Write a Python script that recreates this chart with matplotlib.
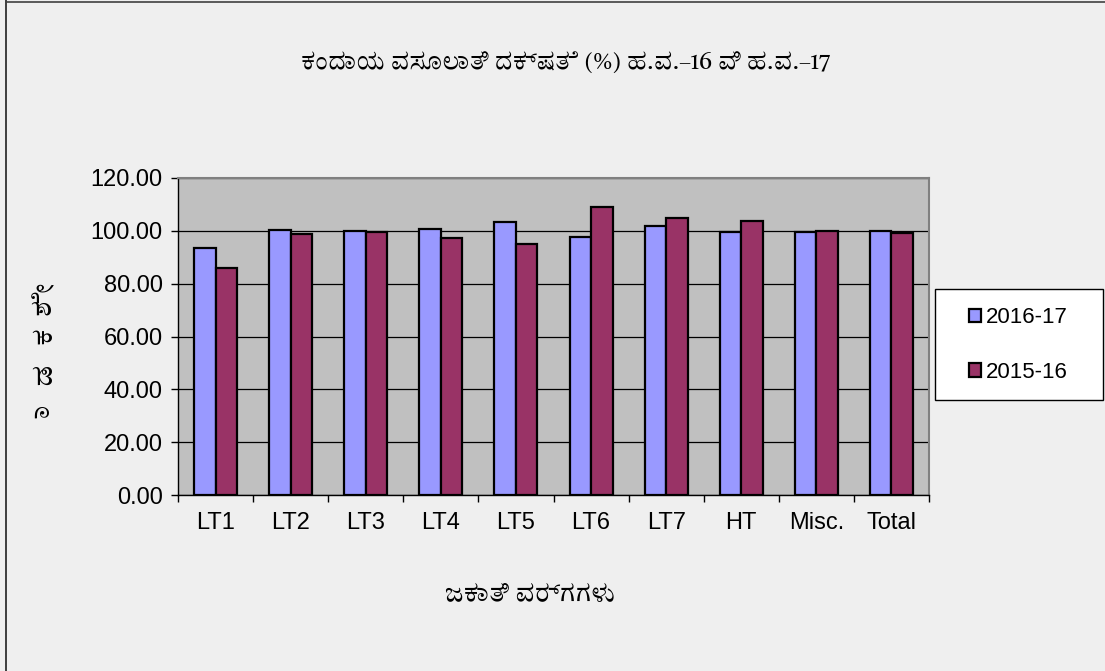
import matplotlib
matplotlib.use("Agg")
import matplotlib.pyplot as plt
from matplotlib import font_manager
from matplotlib.patches import Rectangle
import numpy as np

categories = ["LT1", "LT2", "LT3", "LT4", "LT5", "LT6", "LT7", "HT", "Misc.", "Total"]
vals_2016_17 = [93.4, 100.4, 100.1, 100.6, 103.5, 97.6, 102.0, 99.5, 99.7, 100.1]
vals_2015_16 = [86.1, 98.9, 99.5, 97.3, 95.2, 109.2, 104.8, 103.9, 99.9, 99.1]
series_labels = ["2016-17", "2015-16"]

title_text = "ಕಂದಾಯ ವಸೂಲಾತಿ ದಕ್ಷತೆ (%) ಹ.ವ.–16 ವಿ ಹ.ವ.–17"
xlabel_text = "ಜಕಾತಿ ವರ್ಗಗಳು"
# y label is drawn as stacked, rotated letters (ಶೇಕಡಾ)
ylabel_parts = ["ಶೇ", "ಕ", "ಡ", "ಾ"]

# use a Kannada font if one is present
installed = {f.name for f in font_manager.fontManager.ttflist}
kannada = [n for n in installed if "Kannada" in n]
serif_fams = kannada + ["Liberation Serif", "DejaVu Serif"]
sans_fams = kannada + ["Liberation Sans", "DejaVu Sans"]

plt.rcParams['font.family'] = ["Liberation Sans", "DejaVu Sans"]

W, H = 1105, 671
fig = plt.figure(figsize=(W / 100, H / 100), dpi=100)
fig.patch.set_facecolor("#efefef")

# outer border (left and top)
fig.add_artist(plt.Line2D([6 / W, 6 / W], [0, 1], color="#202020", lw=1.2,
                          transform=fig.transFigure))
fig.add_artist(plt.Line2D([6 / W, 1], [1 - 2 / H, 1 - 2 / H], color="#404040", lw=1.2,
                          transform=fig.transFigure))

ax = fig.add_axes([178 / W, 1 - 495 / H, 751 / W, 317 / H])
ax.set_facecolor("#c0c0c0")

x = np.arange(len(categories))
w = 0.2857
ax.bar(x - w / 2, vals_2016_17, w, color="#9999ff", edgecolor="black", linewidth=1.6,
       label=series_labels[0], zorder=3)
ax.bar(x + w / 2, vals_2015_16, w, color="#993366", edgecolor="black", linewidth=1.6,
       label=series_labels[1], zorder=3)

ax.set_xlim(-0.5, len(categories) - 0.5)
ax.set_ylim(0, 120)
yt = np.arange(0, 121, 20)
ax.set_yticks(yt)
ax.set_yticklabels([f"{v:.2f}" for v in yt], fontsize=17)
ax.yaxis.grid(True, color="black", lw=0.9, zorder=1)
ax.set_axisbelow(True)

# category labels centred, ticks on the boundaries
ax.set_xticks(x)
ax.set_xticklabels(categories, fontsize=17)
ax.tick_params(axis="x", length=0, pad=12)
ax.set_xticks(np.arange(-0.5, len(categories), 1), minor=True)
ax.tick_params(axis="x", which="minor", length=5, width=1, direction="out")
ax.tick_params(axis="y", length=5, width=1, direction="out", pad=6)

for s in ["top", "right"]:
    ax.spines[s].set_color("#808080")
    ax.spines[s].set_linewidth(1.5)
for s in ["left", "bottom"]:
    ax.spines[s].set_color("black")
    ax.spines[s].set_linewidth(1.0)

fig.text(566 / W, 1 - 63 / H, title_text, ha="center", va="center",
         fontsize=16.3, fontweight="bold", family=serif_fams)
fig.text(530 / W, 1 - 595 / H, xlabel_text, ha="center", va="center",
         fontsize=17, fontweight="bold", family=sans_fams)
for i, part in enumerate(ylabel_parts):
    fig.text(44 / W, 1 - (298 + 38 * i) / H, part, ha="center", va="center",
             rotation=90, fontsize=19, fontweight="bold", family=sans_fams)

# legend box drawn separately so the padding matches
fig.add_artist(Rectangle((935 / W, 1 - 400 / H), 168 / W, 111 / H, transform=fig.transFigure,
                         facecolor="white", edgecolor="black", lw=1.0, zorder=2))
leg = fig.legend(loc="center", bbox_to_anchor=(1018 / W, 1 - 345 / H),
                 fontsize=16, frameon=False, handlelength=0.55, handleheight=0.55,
                 handletextpad=0.2, labelspacing=1.5, borderpad=0, borderaxespad=0)
leg.set_zorder(3)

fig.savefig("out.png", dpi=100, facecolor=fig.get_facecolor())
